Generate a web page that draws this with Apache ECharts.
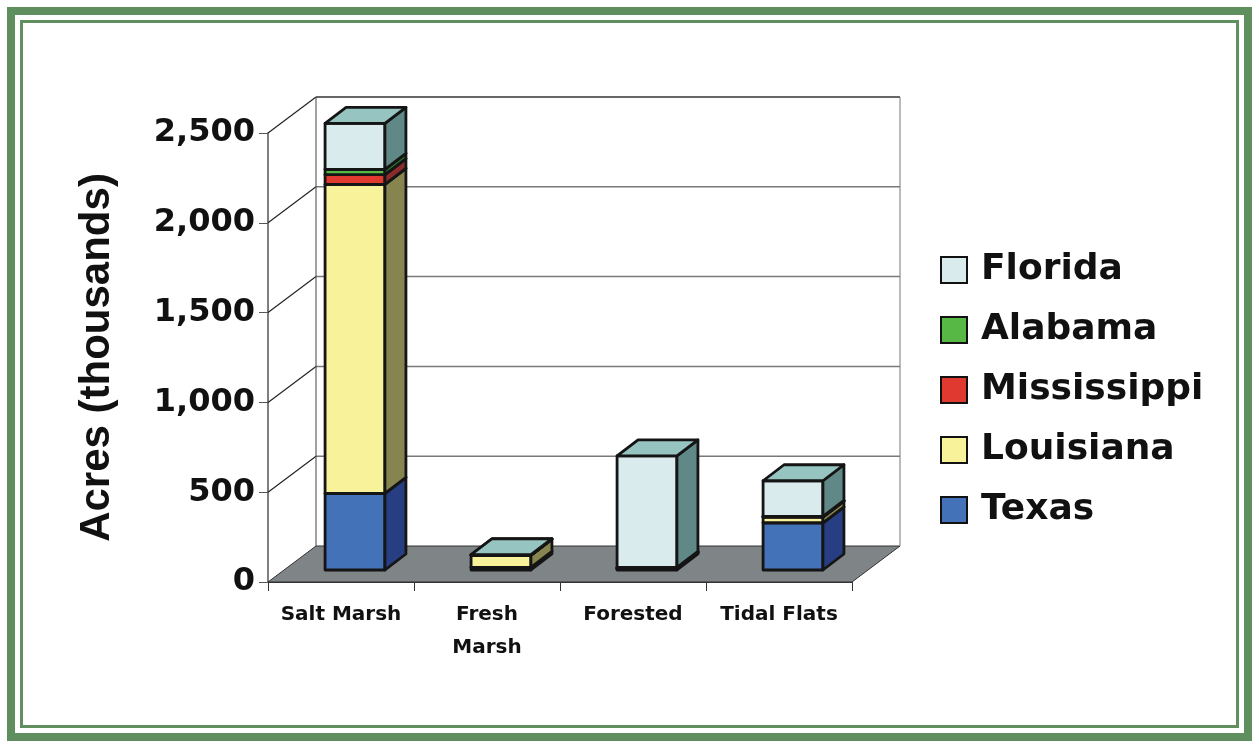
<!DOCTYPE html>
<html><head><meta charset="utf-8">
<script src="https://cdn.jsdelivr.net/npm/echarts@6/dist/echarts.min.js"></script>
<style>html,body{margin:0;padding:0;background:#fff}#c{width:1259px;height:748px}</style>
</head><body><div id="c"></div>
<script>
// ---- data ----
const categories = ['Salt Marsh', 'Fresh\nMarsh', 'Forested', 'Tidal Flats'];
const texas       = [427, 15, 5, 263];
const louisiana   = [1720, 68, 4, 32];
const mississippi = [54, 0, 3, 2];
const alabama     = [30, 0, 3, 2];
const florida     = [256, 2, 620, 198];
const yTicks      = [0, 500, 1000, 1500, 2000, 2500];
const legendOrder = ['Florida', 'Alabama', 'Mississippi', 'Louisiana', 'Texas'];

// ---- styles ----
const seriesDefs = [
  { name: 'Texas',       values: texas,       front: '#4472b8', side: '#273f82', top: '#5f86c4' },
  { name: 'Louisiana',   values: louisiana,   front: '#f8f39a', side: '#87854f', top: '#d9d585' },
  { name: 'Mississippi', values: mississippi, front: '#e0392f', side: '#8a2c2b', top: '#b83a33' },
  { name: 'Alabama',     values: alabama,     front: '#57b846', side: '#2f7a2c', top: '#4a9a3d' },
  { name: 'Florida',     values: florida,     front: '#daebee', side: '#608887', top: '#96c5c1' }
];
const WX = 48, WY = -36;      // wall depth offset
const OX = 14, OY = -12;      // bar front offset from front plane
const DX = 21, DY = -16;      // bar depth
const BAR_FRAC = 0.41;
const FONT = '"DejaVu Sans", sans-serif';

// cumulative stacking
const cum = categories.map(() => 0);
const barSeries = seriesDefs.map(def => {
  const data = def.values.map((v, i) => {
    const lo = cum[i]; cum[i] += v;
    return [i, lo, cum[i]];
  });
  return {
    type: 'custom', name: def.name, z: 3,
    itemStyle: { color: def.front, borderColor: '#111', borderWidth: 2 },
    encode: { x: 0, y: 2 },
    data,
    renderItem: function (params, api) {
      const ci = api.value(0), lo = api.value(1), hi = api.value(2);
      const p0 = api.coord([ci, lo]), p1 = api.coord([ci, hi]);
      const bw = api.size([1, 0])[0] * BAR_FRAC;
      const x0 = p0[0] + OX - bw / 2, x1 = x0 + bw;
      const yb = p0[1] + OY, yt = p1[1] + OY;
      const st = (c) => ({ fill: c, stroke: '#151515', lineWidth: 2.8, lineJoin: 'round' });
      return {
        type: 'group', children: [
          { type: 'polygon', shape: { points: [[x0, yb], [x1, yb], [x1, yt], [x0, yt]] }, style: st(def.front) },
          { type: 'polygon', shape: { points: [[x1, yb], [x1 + DX, yb + DY], [x1 + DX, yt + DY], [x1, yt]] }, style: st(def.side) },
          { type: 'polygon', shape: { points: [[x0, yt], [x1, yt], [x1 + DX, yt + DY], [x0 + DX, yt + DY]] }, style: st(def.top) }
        ]
      };
    }
  };
});

const wallSeries = {
  type: 'custom', name: 'walls', z: 1, silent: true,
  encode: { x: 0, y: 1 },
  data: yTicks.map(v => [0, v]),
  renderItem: function (params, api) {
    const v = api.value(1);
    const cs = params.coordSys;
    const y = api.coord([0, v])[1];
    const xl = cs.x, xr = cs.x + cs.width;
    const children = [];
    if (v === 0) {
      children.push({ type: 'polygon', shape: { points: [[xl, y], [xr, y], [xr + WX, y + WY], [xl + WX, y + WY]] },
        style: { fill: '#7f8487', stroke: '#333', lineWidth: 1 } });
    } else {
      children.push({ type: 'line', shape: { x1: xl + WX, y1: y + WY, x2: xr + WX, y2: y + WY },
        style: { stroke: v === yTicks[yTicks.length - 1] ? '#333' : '#7a7a7a', lineWidth: 1.5 } });
      children.push({ type: 'line', shape: { x1: xl, y1: y, x2: xl + WX, y2: y + WY },
        style: { stroke: '#222', lineWidth: 1.2 } });
    }
    if (v === yTicks[yTicks.length - 1]) {
      const y0 = api.coord([0, 0])[1];
      children.push({ type: 'line', shape: { x1: xl + WX, y1: y + WY, x2: xl + WX, y2: y0 + WY },
        style: { stroke: '#444', lineWidth: 1 } });
      children.push({ type: 'line', shape: { x1: xr + WX, y1: y + WY, x2: xr + WX, y2: y0 + WY },
        style: { stroke: '#777', lineWidth: 1 } });
    }
    return { type: 'group', children };
  }
};

const chart = echarts.init(document.getElementById('c'), null, { renderer: 'canvas' });
chart.setOption({
  animation: false,
  backgroundColor: '#fff',
  graphic: [
    { type: 'rect', shape: { x: 11, y: 11, width: 1237, height: 726 }, style: { fill: 'none', stroke: '#5f8f5f', lineWidth: 8 } },
    { type: 'rect', shape: { x: 21.5, y: 21.5, width: 1216, height: 705 }, style: { fill: 'none', stroke: '#5f8f5f', lineWidth: 3 } }
  ],
  grid: { left: 268, top: 133, width: 584, height: 449 },
  legend: {
    orient: 'vertical', left: 935, top: 245, itemWidth: 26, itemHeight: 26, itemGap: 20,
    icon: 'rect', selectedMode: false,
    textStyle: { fontFamily: FONT, fontWeight: 'bold', fontSize: 36, color: '#111', lineHeight: 40, padding: [0, 0, 0, 9] },
    data: legendOrder.map(n => {
      const d = seriesDefs.find(s => s.name === n);
      return { name: n, itemStyle: { color: d.front, borderColor: '#111', borderWidth: 2 } };
    })
  },
  xAxis: {
    type: 'category', data: categories, boundaryGap: true,
    axisLine: { show: true, lineStyle: { color: '#333', width: 1 } },
    axisTick: { show: true, interval: 0, length: 9, lineStyle: { color: '#333' } },
    axisLabel: { interval: 0, fontFamily: FONT, fontWeight: 'bold', fontSize: 20, color: '#111', margin: 16, lineHeight: 33 }
  },
  yAxis: {
    type: 'value', min: 0, max: 2500, interval: 500,
    name: 'Acres (thousands)', nameLocation: 'middle', nameRotate: 90, nameGap: 150,
    nameTextStyle: { fontFamily: '"Liberation Sans", Arial, sans-serif', fontWeight: 'bold', fontSize: 42, color: '#111' },
    axisLine: { show: true, lineStyle: { color: '#555', width: 1.5 } },
    axisTick: { show: true, length: 9, lineStyle: { color: '#555' } },
    splitLine: { show: false },
    axisLabel: {
      fontFamily: FONT, fontWeight: 'bold', fontSize: 32, color: '#111', margin: 13,
      formatter: v => v.toLocaleString('en-US')
    }
  },
  series: [wallSeries].concat(barSeries)
});
</script>
</body></html>
